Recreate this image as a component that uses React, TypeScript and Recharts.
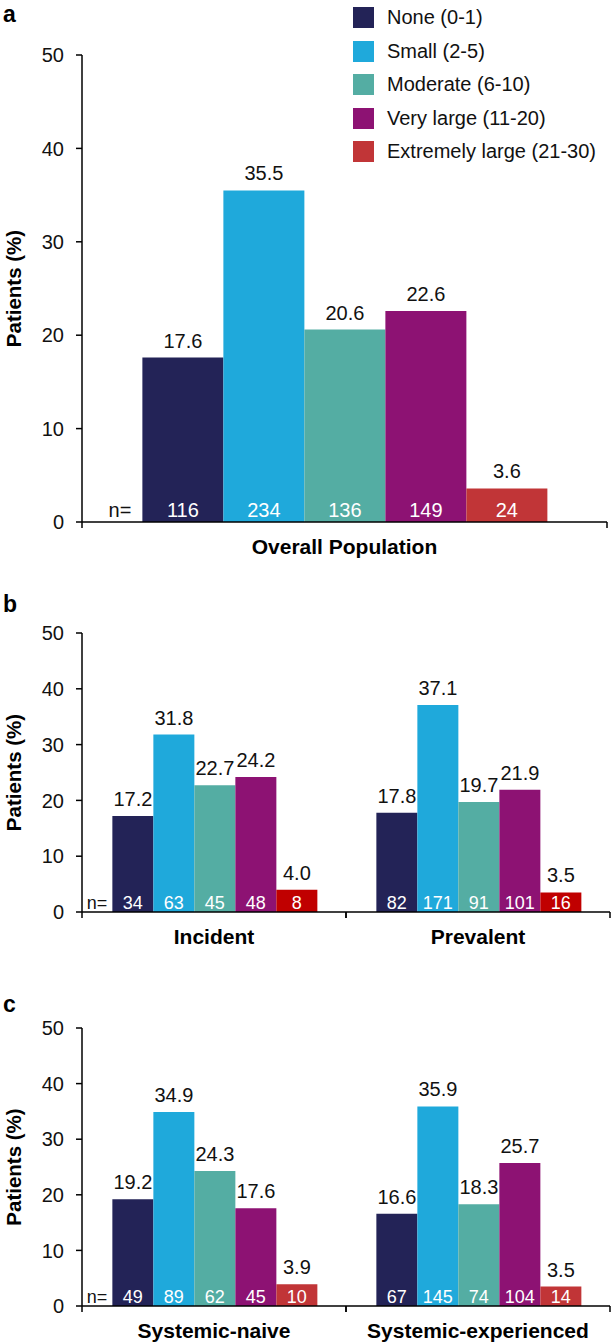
import React from "react";
import { BarChart, Bar, XAxis, YAxis, LabelList, Legend } from "recharts";

const FONT = '"Liberation Sans", Arial, Helvetica, sans-serif';

const severities = [
  "None (0-1)",
  "Small (2-5)",
  "Moderate (6-10)",
  "Very large (11-20)",
  "Extremely large (21-30)",
];
const colors = ["#232357", "#1FA9DB", "#54ADA3", "#8D1273", "#C13537"];
const colorsB = ["#232357", "#1FA9DB", "#54ADA3", "#8D1273", "#C00000"];
const yTicks = [0, 10, 20, 30, 40, 50];

// panel a
const overallCategories = ["Overall Population"];
const overallPct = [17.6, 35.5, 20.6, 22.6, 3.6];
const overallN = [116, 234, 136, 149, 24];

// panel b
const statusCategories = ["Incident", "Prevalent"];
const incidentPct = [17.2, 31.8, 22.7, 24.2, 4.0];
const incidentN = [34, 63, 45, 48, 8];
const prevalentPct = [17.8, 37.1, 19.7, 21.9, 3.5];
const prevalentN = [82, 171, 91, 101, 16];

// panel c
const therapyCategories = ["Systemic-naive", "Systemic-experienced"];
const naivePct = [19.2, 34.9, 24.3, 17.6, 3.9];
const naiveN = [49, 89, 62, 45, 10];
const experiencedPct = [16.6, 35.9, 18.3, 25.7, 3.5];
const experiencedN = [67, 145, 74, 104, 14];

function buildRows(categories: string[], pcts: number[][], ns: number[][]) {
  return categories.map((name, ci) => {
    const row: Record<string, any> = { name };
    pcts[ci].forEach((v, si) => {
      row[`p${si}`] = v;
      row[`n${si}`] = ns[ci][si];
    });
    return row;
  });
}

const CHART_W = 613;
const AXIS_W = 82;

function CategoryTick(props: any) {
  const { x, y, payload, bandHalf } = props;
  const axisY = y - 6;
  return (
    <g>
      <line x1={x - bandHalf} x2={x - bandHalf} y1={axisY} y2={axisY + 6} stroke="#000" strokeWidth={1.5} />
      <line x1={x + bandHalf} x2={x + bandHalf} y1={axisY} y2={axisY + 6} stroke="#000" strokeWidth={1.5} />
      <text
        x={x}
        y={axisY + 32}
        textAnchor="middle"
        fontSize={21}
        fontWeight="bold"
        fontFamily={FONT}
        fill="#000"
      >
        {payload.value}
      </text>
    </g>
  );
}

function LegendBox() {
  return (
    <div style={{ fontFamily: FONT }}>
      {severities.map((s, i) => (
        <div key={s} style={{ display: "flex", alignItems: "center", height: 33.5 }}>
          <div style={{ width: 21, height: 21, background: colors[i], marginRight: 13 }} />
          <span style={{ fontSize: 20, color: "#111", whiteSpace: "nowrap" }}>{s}</span>
        </div>
      ))}
    </div>
  );
}

interface PanelProps {
  rows: Record<string, any>[];
  height: number;
  marginTop: number;
  marginRight: number;
  palette: string[];
  nFont: number;
  nGap: number;
  nLift: number;
  legend?: boolean;
}

function Panel({ rows, height, marginTop, marginRight, palette, nFont, nGap, nLift, legend }: PanelProps) {
  const bandHalf = (CHART_W - AXIS_W - marginRight) / rows.length / 2;

  const renderN = (p: any, si: number) => {
    const vb = p.viewBox ?? p;
    const bx = Number(vb.x);
    const bw = Number(vb.width);
    const by = Number(vb.y);
    const bh = Number(vb.height);
    const base = by + bh - nLift;
    return (
      <g>
        {si === 0 && p.index === 0 && (
          <text x={bx - nGap} y={base} textAnchor="end" fontSize={nFont} fontFamily={FONT} fill="#111">
            n=
          </text>
        )}
        <text x={bx + bw / 2} y={base} textAnchor="middle" fontSize={nFont} fontFamily={FONT} fill="#fff">
          {p.value}
        </text>
      </g>
    );
  };

  return (
    <BarChart
      width={CHART_W}
      height={height}
      data={rows}
      margin={{ top: marginTop, right: marginRight, bottom: 0, left: 0 }}
      barGap={0}
      barCategoryGap="11.5%"
    >
      <XAxis
        dataKey="name"
        height={38}
        tickSize={6}
        tickMargin={0}
        tickLine={false}
        axisLine={{ stroke: "#000", strokeWidth: 1.5 }}
        tick={<CategoryTick bandHalf={bandHalf} />}
      />
      <YAxis
        width={AXIS_W}
        domain={[0, 50]}
        ticks={yTicks}
        tickSize={6}
        tickMargin={12}
        axisLine={{ stroke: "#000", strokeWidth: 1.5 }}
        tickLine={{ stroke: "#000", strokeWidth: 1.5 }}
        tick={{ fontSize: 20, fill: "#111", fontFamily: FONT }}
        label={{
          content: (lp: any) => {
            const vb = lp.viewBox ?? {};
            const cy = Number(vb.y) + Number(vb.height) / 2;
            return (
              <text
                x={13}
                y={cy}
                transform={`rotate(-90 13 ${cy})`}
                textAnchor="middle"
                dominantBaseline="central"
                fontSize={20.5}
                fontWeight="bold"
                fontFamily={FONT}
                fill="#000"
              >
                Patients (%)
              </text>
            );
          },
        }}
      />
      {legend && (
        <Legend
          layout="vertical"
          align="center"
          verticalAlign="middle"
          wrapperStyle={{ top: 1, left: 353, width: 260, height: 170 }}
          content={() => <LegendBox />}
        />
      )}
      {severities.map((s, si) => (
        <Bar key={s} dataKey={`p${si}`} name={s} fill={palette[si]} isAnimationActive={false}>
          <LabelList
            dataKey={`p${si}`}
            position="top"
            offset={10}
            formatter={(v: any) => Number(v).toFixed(1)}
            fontSize={20}
            fill="#111"
            fontFamily={FONT}
          />
          <LabelList dataKey={`n${si}`} content={(p: any) => renderN(p, si)} />
        </Bar>
      ))}
    </BarChart>
  );
}

const letterStyle: React.CSSProperties = {
  position: "absolute",
  left: 3,
  fontSize: 23,
  lineHeight: "28px",
  fontWeight: "bold",
  fontFamily: FONT,
  color: "#000",
};

export default function App() {
  const rowsA = buildRows(overallCategories, [overallPct], [overallN]);
  const rowsB = buildRows(statusCategories, [incidentPct, prevalentPct], [incidentN, prevalentN]);
  const rowsC = buildRows(therapyCategories, [naivePct, experiencedPct], [naiveN, experiencedN]);

  return (
    <div
      style={{
        position: "absolute",
        left: 0,
        top: 0,
        width: 613,
        height: 1344,
        background: "#fff",
        fontFamily: FONT,
        overflow: "hidden",
      }}
    >
      <div style={{ ...letterStyle, top: 0 }}>a</div>
      <div style={{ ...letterStyle, top: 590 }}>b</div>
      <div style={{ ...letterStyle, top: 990 }}>c</div>

      <div style={{ position: "absolute", left: 0, top: 0 }}>
        <Panel rows={rowsA} height={560} marginTop={55} marginRight={6} palette={colors} nFont={20} nGap={11} nLift={5} legend />
      </div>
      <div style={{ position: "absolute", left: 0, top: 590 }}>
        <Panel rows={rowsB} height={360} marginTop={43} marginRight={3} palette={colorsB} nFont={18} nGap={5} nLift={3} />
      </div>
      <div style={{ position: "absolute", left: 0, top: 970 }}>
        <Panel rows={rowsC} height={374} marginTop={58} marginRight={3} palette={colors} nFont={18} nGap={5} nLift={3} />
      </div>
    </div>
  );
}
